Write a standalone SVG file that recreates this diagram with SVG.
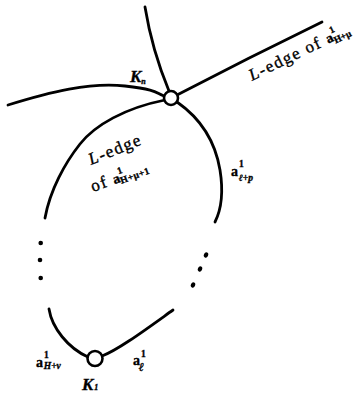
<svg xmlns="http://www.w3.org/2000/svg" width="358" height="397" viewBox="0 0 358 397">
<style>
.edge{fill:none;stroke:#000;stroke-width:2.8;stroke-linecap:round}
.node{fill:#fff;stroke:#000;stroke-width:2.6}
.dot{fill:#000}
.t{font-family:"Liberation Serif","DejaVu Serif",serif;fill:#000;stroke:#000;stroke-width:0.35}
.k{font-size:17px;font-style:italic;font-weight:bold}
.ks{font-size:8px;font-weight:bold}
.lab{font-size:17px;letter-spacing:1.5px}
.a{font-size:14px;font-weight:bold}
.s{font-size:9.5px;font-weight:bold}
</style>
<rect width="358" height="397" fill="#fff"/>
<g id="connectors">
<path class="edge" d="M145,7 Q152,50 169,91"/>
<path class="edge" d="M177,95 Q250,57 322,22"/>
<path class="edge" d="M8,105 C50,92 90,82 125,86 S155,93 164,96"/>
<path class="edge" d="M165,100 C125,108 95,125 80,144 C65,163 50,190 45,218"/>
<path class="edge" d="M177,102 C200,118 215,140 220,170 C224,195 221,210 215,222"/>
<path class="edge" d="M49,309 C52,328 68,348 88,357"/>
<path class="edge" d="M102,356 C118,350 145,330 173,310"/>
<circle class="dot" cx="40.7" cy="243" r="2.3"/>
<circle class="dot" cx="40" cy="260" r="2.3"/>
<circle class="dot" cx="40.7" cy="278" r="2.3"/>
<ellipse class="dot" cx="206" cy="255" rx="2.1" ry="2.7" transform="rotate(25 206 255)"/>
<ellipse class="dot" cx="200" cy="269" rx="2.1" ry="2.7" transform="rotate(25 200 269)"/>
<ellipse class="dot" cx="193" cy="285" rx="2.1" ry="2.7" transform="rotate(25 193 285)"/>
</g>
<g id="Kn">
<circle class="node" cx="171" cy="98" r="7"/>
<text class="t k" x="130" y="82">K<tspan class="ks" dy="2">n</tspan></text>
</g>
<g id="K1">
<circle class="node" cx="95" cy="358.5" r="7.5"/>
<text class="t k" x="82" y="390">K<tspan class="ks" dx="1">1</tspan></text>
</g>
<g id="labels">
<text class="t lab" transform="rotate(-26 252 81)" x="252" y="81"><tspan font-style="italic">L</tspan>-edge of <tspan class="a" letter-spacing="0">a</tspan><tspan class="s" letter-spacing="0" dy="-8">1</tspan><tspan class="s" letter-spacing="0" dx="-5" dy="11">H+μ</tspan></text>
<text class="t lab" transform="rotate(-22 91 165)" x="91" y="165" letter-spacing="2"><tspan font-style="italic">L</tspan>-edge</text>
<text class="t lab" transform="rotate(-20 93 192)" x="93" y="192">of <tspan class="a" letter-spacing="0">a</tspan><tspan class="s" letter-spacing="0" dy="-8">1</tspan><tspan class="s" letter-spacing="0.5" dx="-5" dy="10">H+μ+1</tspan></text>
<text class="t a" x="231" y="176">a<tspan class="s" dx="1" dy="-9">1</tspan><tspan class="s" dx="-5" dy="14" font-style="italic">ℓ+p</tspan></text>
<text class="t a" x="36" y="367">a<tspan class="s" dx="1" dy="-9">1</tspan><tspan class="s" dx="-5" dy="11" font-style="italic">H+ν</tspan></text>
<text class="t a" x="133" y="365">a<tspan class="s" dx="1" dy="-8">1</tspan><tspan font-size="12px" font-weight="bold" font-style="italic" dx="-7" dy="14">ℓ</tspan></text>
</g>
</svg>
